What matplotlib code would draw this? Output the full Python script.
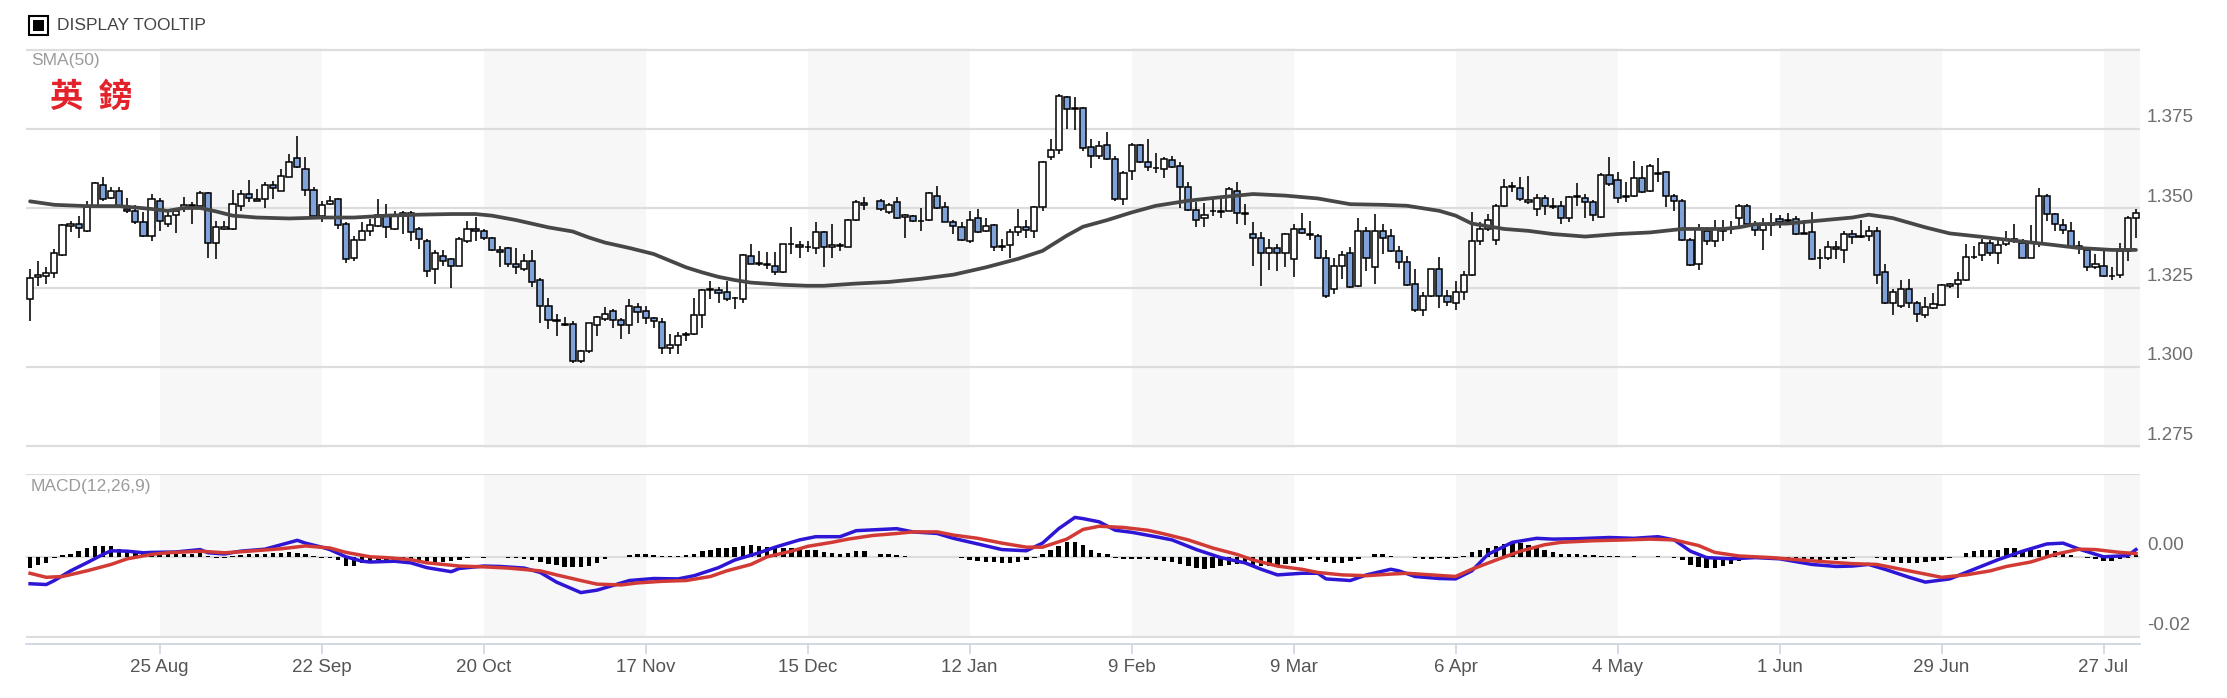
import numpy as np
import matplotlib
matplotlib.use('Agg')
import matplotlib.pyplot as plt
import matplotlib.transforms as mtransforms
from matplotlib.patches import Rectangle

# ---- data (one candle per trading day, None = no trading) ----
tick_labels = ['25 Aug', '22 Sep', '20 Oct', '17 Nov', '15 Dec', '12 Jan', '9 Feb',
               '9 Mar', '6 Apr', '4 May', '1 Jun', '29 Jun', '27 Jul']

opens = [
    1.3214, 1.3285, 1.3287, 1.3297, 1.3352, 1.3445, 1.3450, 1.3429, 1.3508, 1.3573,
    1.3534, 1.3555, 1.3498, 1.3490, 1.3456, 1.3414, 1.3522, 1.3452, 1.3480, 1.3501,
    1.3508, 1.3508, 1.3547, 1.3390, 1.3436, 1.3435, 1.3508, 1.3545, 1.3528, 1.3529,
    1.3573, 1.3555, 1.3600, 1.3658, 1.3624, 1.3558, 1.3477, 1.3513, 1.3529, 1.3450,
    1.3343, 1.3401, 1.3429, 1.3445, 1.3477, 1.3435, 1.3477, 1.3484, 1.3435, 1.3396,
    1.3308, 1.3350, 1.3340, 1.3319, 1.3398, 1.3435, 1.3429, 1.3406, 1.3368, 1.3375,
    1.3324, 1.3308, 1.3335, 1.3274, 1.3193, 1.3148, 1.3135, 1.3137, 1.3019, 1.3049,
    1.3133, 1.3151, 1.3177, 1.3147, 1.3133, 1.3190, 1.3175, 1.3154, 1.3142, 1.3061,
    1.3070, 1.3100, 1.3103, 1.3163, 1.3242, 1.3243, 1.3235, 1.3217, 1.3214, 1.3350,
    1.3329, 1.3326, 1.3319, 1.3298, 1.3387, 1.3385, 1.3377, 1.3375, 1.3424, 1.3377,
    1.3382, 1.3379, 1.3463, 1.3517, None, 1.3522, 1.3487, 1.3519, 1.3473, 1.3475,
    1.3461, 1.3463, 1.3540, 1.3503, 1.3458, 1.3442, 1.3396, 1.3468, 1.3427, 1.3447,
    1.3379, 1.3385, 1.3424, 1.3440, 1.3429, 1.3503, 1.3661, 1.3684, 1.3850, 1.3815,
    1.3816, 1.3694, 1.3666, 1.3701, 1.3655, 1.3529, 1.3619, 1.3701, 1.3645, 1.3626,
    1.3624, 1.3652, 1.3634, 1.3568, 1.3495, 1.3469, 1.3490, 1.3489, 1.3492, 1.3555,
    1.3486, 1.3419, 1.3408, 1.3359, 1.3374, 1.3359, 1.3340, 1.3435, 1.3419, 1.3414,
    1.3342, 1.3247, 1.3319, 1.3359, 1.3255, 1.3429, 1.3314, 1.3429, 1.3414, 1.3364,
    1.3331, 1.3263, 1.3180, 1.3224, 1.3308, 1.3224, 1.3203, 1.3235, 1.3290, 1.3398,
    1.3435, 1.3401, 1.3508, 1.3566, 1.3563, 1.3519, 1.3498, 1.3534, 1.3506, 1.3506,
    1.3469, 1.3538, 1.3534, 1.3519, 1.3473, 1.3606, 1.3589, 1.3538, 1.3540, 1.3595,
    1.3555, 1.3611, 1.3613, 1.3540, 1.3524, 1.3401, 1.3324, 1.3429, 1.3396, 1.3430,
    1.3434, 1.3469, 1.3508, 1.3450, 1.3431, 1.3449, 1.3466, 1.3460, 1.3466, 1.3422,
    1.3424, 1.3342, 1.3343, 1.3379, 1.3369, 1.3419, 1.3410, 1.3414, 1.3429, 1.3298,
    1.3203, 1.3193, 1.3247, 1.3203, 1.3164, 1.3187, 1.3196, 1.3256, 1.3263, 1.3274,
    1.3348, 1.3354, 1.3392, 1.3359, 1.3387, 1.3404, 1.3392, 1.3345, 1.3392, 1.3540,
    1.3482, 1.3448, 1.3429, 1.3380, 1.3368, 1.3314, 1.3319, 1.3288, 1.3290, 1.3366,
    1.3469]

highs = [
    1.3308, 1.3333, 1.3314, 1.3371, 1.3452, 1.3459, 1.3477, 1.3524, 1.3582, 1.3598,
    1.3568, 1.3566, 1.3534, 1.3511, 1.3487, 1.3545, 1.3534, 1.3490, 1.3501, 1.3537,
    1.3519, 1.3553, 1.3550, 1.3461, 1.3461, 1.3558, 1.3558, 1.3590, 1.3561, 1.3582,
    1.3585, 1.3624, 1.3671, 1.3729, 1.3661, 1.3566, 1.3524, 1.3540, 1.3534, 1.3456,
    1.3414, 1.3458, 1.3466, 1.3529, 1.3513, 1.3492, 1.3492, 1.3490, 1.3440, 1.3403,
    1.3368, 1.3368, 1.3345, 1.3410, 1.3459, 1.3473, 1.3435, 1.3410, 1.3382, 1.3377,
    1.3375, 1.3356, 1.3369, 1.3282, 1.3219, 1.3166, 1.3158, 1.3145, 1.3053, 1.3140,
    1.3161, 1.3190, 1.3182, 1.3156, 1.3214, 1.3203, 1.3193, 1.3158, 1.3156, 1.3103,
    1.3111, 1.3109, 1.3217, 1.3245, 1.3272, 1.3253, 1.3272, 1.3221, 1.3356, 1.3387,
    1.3364, 1.3361, 1.3361, 1.3389, 1.3442, 1.3398, 1.3396, 1.3458, 1.3429, 1.3450,
    1.3392, 1.3466, 1.3526, 1.3537, None, 1.3529, 1.3516, 1.3537, 1.3482, 1.3480,
    1.3501, 1.3550, 1.3569, 1.3519, 1.3463, 1.3456, 1.3490, 1.3498, 1.3469, 1.3450,
    1.3403, 1.3435, 1.3498, 1.3463, 1.3508, 1.3648, 1.3718, 1.3860, 1.3855, 1.3850,
    1.3818, 1.3718, 1.3713, 1.3740, 1.3666, 1.3616, 1.3705, 1.3703, 1.3718, 1.3673,
    1.3661, 1.3666, 1.3645, 1.3582, 1.3519, 1.3516, 1.3529, 1.3534, 1.3566, 1.3582,
    1.3513, 1.3458, 1.3424, 1.3403, 1.3387, 1.3421, 1.3450, 1.3485, 1.3459, 1.3419,
    1.3368, 1.3343, 1.3364, 1.3377, 1.3469, 1.3440, 1.3482, 1.3450, 1.3435, 1.3382,
    1.3350, 1.3308, 1.3235, 1.3310, 1.3347, 1.3242, 1.3272, 1.3303, 1.3487, 1.3456,
    1.3482, 1.3513, 1.3592, 1.3582, 1.3598, 1.3603, 1.3545, 1.3543, 1.3534, 1.3524,
    1.3540, 1.3579, 1.3545, 1.3526, 1.3610, 1.3663, 1.3613, 1.3582, 1.3648, 1.3634,
    1.3640, 1.3658, 1.3619, 1.3545, 1.3529, 1.3408, 1.3452, 1.3440, 1.3463, 1.3463,
    1.3461, 1.3513, 1.3513, 1.3461, 1.3469, 1.3484, 1.3480, 1.3484, 1.3477, 1.3463,
    1.3487, 1.3371, 1.3396, 1.3396, 1.3427, 1.3431, 1.3463, 1.3445, 1.3442, 1.3326,
    1.3245, 1.3274, 1.3277, 1.3208, 1.3221, 1.3232, 1.3263, 1.3266, 1.3298, 1.3387,
    1.3382, 1.3403, 1.3400, 1.3403, 1.3429, 1.3452, 1.3403, 1.3448, 1.3564, 1.3545,
    1.3484, 1.3466, 1.3458, 1.3398, 1.3371, 1.3356, 1.3366, 1.3314, 1.3392, 1.3477,
    1.3498]

lows = [
    1.3145, 1.3256, 1.3261, 1.3282, 1.3350, 1.3424, 1.3406, 1.3424, 1.3505, 1.3524,
    1.3529, 1.3503, 1.3484, 1.3450, 1.3411, 1.3396, 1.3429, 1.3440, 1.3422, 1.3489,
    1.3450, 1.3505, 1.3345, 1.3340, 1.3431, 1.3431, 1.3490, 1.3519, 1.3522, 1.3501,
    1.3529, 1.3553, 1.3598, 1.3627, 1.3540, 1.3473, 1.3456, 1.3511, 1.3435, 1.3329,
    1.3335, 1.3400, 1.3414, 1.3440, 1.3406, 1.3431, 1.3419, 1.3396, 1.3371, 1.3284,
    1.3261, 1.3319, 1.3250, 1.3317, 1.3392, 1.3396, 1.3400, 1.3366, 1.3314, 1.3314,
    1.3293, 1.3303, 1.3253, 1.3140, 1.3119, 1.3098, 1.3130, 1.3014, 1.3014, 1.3045,
    1.3098, 1.3145, 1.3124, 1.3088, 1.3103, 1.3140, 1.3137, 1.3124, 1.3042, 1.3042,
    1.3042, 1.3082, 1.3101, 1.3124, 1.3214, 1.3203, 1.3208, 1.3182, 1.3203, 1.3324,
    1.3319, 1.3308, 1.3290, 1.3295, 1.3356, 1.3345, 1.3361, 1.3356, 1.3314, 1.3345,
    1.3364, 1.3377, 1.3461, 1.3495, None, 1.3492, 1.3482, 1.3466, 1.3406, 1.3456,
    1.3429, 1.3461, 1.3498, 1.3456, 1.3419, 1.3396, 1.3392, 1.3422, 1.3424, 1.3366,
    1.3366, 1.3345, 1.3414, 1.3406, 1.3408, 1.3490, 1.3652, 1.3671, 1.3750, 1.3747,
    1.3682, 1.3627, 1.3655, 1.3652, 1.3524, 1.3511, 1.3589, 1.3642, 1.3616, 1.3610,
    1.3595, 1.3627, 1.3501, 1.3492, 1.3440, 1.3440, 1.3477, 1.3471, 1.3490, 1.3450,
    1.3448, 1.3319, 1.3256, 1.3305, 1.3301, 1.3314, 1.3284, 1.3419, 1.3400, 1.3340,
    1.3219, 1.3229, 1.3277, 1.3250, 1.3253, 1.3301, 1.3263, 1.3356, 1.3361, 1.3310,
    1.3256, 1.3172, 1.3161, 1.3221, 1.3185, 1.3191, 1.3179, 1.3212, 1.3286, 1.3385,
    1.3429, 1.3384, 1.3505, 1.3550, 1.3524, 1.3513, 1.3477, 1.3479, 1.3498, 1.3452,
    1.3456, 1.3508, 1.3469, 1.3459, 1.3469, 1.3571, 1.3516, 1.3519, 1.3537, 1.3547,
    1.3550, 1.3584, 1.3505, 1.3490, 1.3398, 1.3319, 1.3306, 1.3385, 1.3379, 1.3396,
    1.3419, 1.3435, 1.3448, 1.3414, 1.3368, 1.3414, 1.3438, 1.3450, 1.3417, 1.3419,
    1.3337, 1.3308, 1.3337, 1.3340, 1.3329, 1.3387, 1.3406, 1.3396, 1.3263, 1.3200,
    1.3164, 1.3187, 1.3185, 1.3142, 1.3154, 1.3184, 1.3193, 1.3250, 1.3217, 1.3272,
    1.3340, 1.3335, 1.3350, 1.3324, 1.3382, 1.3392, 1.3343, 1.3343, 1.3379, 1.3461,
    1.3429, 1.3419, 1.3375, 1.3356, 1.3303, 1.3308, 1.3284, 1.3274, 1.3282, 1.3335,
    1.3406]

closes = [
    1.3280, 1.3290, 1.3297, 1.3359, 1.3448, 1.3452, 1.3437, 1.3505, 1.3579, 1.3529,
    1.3555, 1.3508, 1.3490, 1.3456, 1.3414, 1.3529, 1.3459, 1.3477, 1.3490, 1.3511,
    1.3512, 1.3547, 1.3390, 1.3440, 1.3442, 1.3513, 1.3545, 1.3531, 1.3523, 1.3573,
    1.3563, 1.3601, 1.3645, 1.3629, 1.3558, 1.3477, 1.3511, 1.3524, 1.3448, 1.3340,
    1.3400, 1.3429, 1.3448, 1.3479, 1.3442, 1.3480, 1.3484, 1.3424, 1.3403, 1.3303,
    1.3358, 1.3333, 1.3319, 1.3403, 1.3435, 1.3429, 1.3406, 1.3369, 1.3361, 1.3324,
    1.3316, 1.3335, 1.3269, 1.3193, 1.3148, 1.3145, 1.3133, 1.3019, 1.3049, 1.3138,
    1.3158, 1.3168, 1.3148, 1.3133, 1.3193, 1.3172, 1.3156, 1.3145, 1.3061, 1.3070,
    1.3098, 1.3103, 1.3163, 1.3243, 1.3245, 1.3232, 1.3214, 1.3216, 1.3352, 1.3326,
    1.3326, 1.3322, 1.3298, 1.3387, 1.3389, 1.3377, 1.3379, 1.3424, 1.3377, 1.3384,
    1.3385, 1.3463, 1.3519, 1.3510, None, 1.3498, 1.3511, 1.3469, 1.3480, 1.3459,
    1.3460, 1.3547, 1.3501, 1.3458, 1.3443, 1.3400, 1.3463, 1.3424, 1.3445, 1.3379,
    1.3381, 1.3424, 1.3440, 1.3431, 1.3503, 1.3645, 1.3684, 1.3855, 1.3813, 1.3812,
    1.3690, 1.3666, 1.3697, 1.3655, 1.3529, 1.3610, 1.3701, 1.3645, 1.3629, 1.3628,
    1.3655, 1.3631, 1.3568, 1.3495, 1.3463, 1.3479, 1.3491, 1.3492, 1.3561, 1.3484,
    1.3483, 1.3408, 1.3359, 1.3374, 1.3359, 1.3419, 1.3435, 1.3421, 1.3416, 1.3342,
    1.3224, 1.3317, 1.3352, 1.3253, 1.3429, 1.3342, 1.3429, 1.3408, 1.3364, 1.3331,
    1.3259, 1.3180, 1.3224, 1.3308, 1.3224, 1.3205, 1.3235, 1.3290, 1.3398, 1.3435,
    1.3463, 1.3508, 1.3568, 1.3569, 1.3529, 1.3527, 1.3534, 1.3508, 1.3504, 1.3469,
    1.3537, 1.3536, 1.3519, 1.3479, 1.3606, 1.3576, 1.3534, 1.3536, 1.3595, 1.3550,
    1.3634, 1.3609, 1.3540, 1.3524, 1.3401, 1.3322, 1.3435, 1.3398, 1.3435, 1.3433,
    1.3436, 1.3508, 1.3450, 1.3431, 1.3447, 1.3447, 1.3456, 1.3462, 1.3419, 1.3420,
    1.3340, 1.3344, 1.3379, 1.3371, 1.3419, 1.3410, 1.3412, 1.3427, 1.3290, 1.3203,
    1.3235, 1.3247, 1.3203, 1.3166, 1.3190, 1.3200, 1.3259, 1.3261, 1.3274, 1.3347,
    1.3346, 1.3392, 1.3359, 1.3385, 1.3403, 1.3402, 1.3345, 1.3392, 1.3540, 1.3482,
    1.3452, 1.3431, 1.3379, 1.3378, 1.3314, 1.3324, 1.3287, 1.3286, 1.3366, 1.3469,
    1.3484]

# SMA(50) read at selected days
sma_day = [0, 3, 7, 11, 15, 17, 19, 21, 23, 25, 28, 32, 36, 40, 44, 48, 52, 55, 57, 60,
           64, 67, 69, 71, 74, 77, 81, 83, 85, 87, 89, 93, 96, 98, 102, 106, 110, 114, 118, 122,
           125, 128, 130, 133, 136, 139, 143, 147, 151, 155, 159, 163, 167, 170, 174, 176, 178, 182, 185, 188,
           192, 196, 200, 204, 209, 211, 213, 217, 222, 225, 227, 230, 234, 237, 241, 245, 249, 253, 257, 260]
sma_val = [1.3522, 1.3511, 1.3507, 1.3507, 1.3498, 1.3492, 1.3501, 1.3501, 1.3490, 1.3477,
           1.3471, 1.3468, 1.3471, 1.3471, 1.3477, 1.3480, 1.3482, 1.3482, 1.3477, 1.3463,
           1.3440, 1.3427, 1.3408, 1.3392, 1.3375, 1.3356, 1.3314, 1.3298, 1.3284, 1.3274,
           1.3266, 1.3259, 1.3256, 1.3256, 1.3263, 1.3268, 1.3278, 1.3291, 1.3314, 1.3341,
           1.3366, 1.3414, 1.3442, 1.3463, 1.3487, 1.3508, 1.3524, 1.3535, 1.3545, 1.3540,
           1.3531, 1.3513, 1.3511, 1.3508, 1.3492, 1.3477, 1.3452, 1.3435, 1.3429, 1.3419,
           1.3411, 1.3419, 1.3424, 1.3435, 1.3435, 1.3440, 1.3450, 1.3452, 1.3464, 1.3471,
           1.3480, 1.3469, 1.3440, 1.3421, 1.3410, 1.3398, 1.3387, 1.3375, 1.3369, 1.3369]

# MACD(12,26,9): MACD line and signal line read at selected days, histogram per day
macd_day = [0, 2, 3, 5, 7, 9, 10, 12, 14, 15, 18, 21, 22, 24, 26, 29, 31, 33, 34, 36,
            37, 39, 41, 42, 45, 47, 49, 52, 53, 56, 58, 61, 63, 65, 68, 70, 72, 74, 77, 80,
            82, 85, 87, 90, 92, 95, 97, 100, 102, 105, 107, 109, 112, 114, 117, 120, 123, 125, 127, 129,
            130, 132, 134, 136, 139, 141, 144, 147, 150, 152, 154, 157, 159, 160, 163, 165, 168, 169, 171, 174,
            176, 178, 180, 183, 186, 188, 191, 195, 198, 201, 203, 205, 207, 210, 213, 216, 220, 223, 225, 227,
            229, 232, 234, 237, 240, 243, 246, 249, 251, 253, 256, 259, 260]
macd_val = [-0.0067, -0.0069, -0.0059, -0.0035, -0.0015, 0.0006, 0.0015, 0.0014, 0.0010, 0.0011,
            0.0012, 0.0018, 0.0010, 0.0007, 0.0014, 0.0019, 0.0030, 0.0041, 0.0034, 0.0024,
            0.0018, 0.0000, -0.0011, -0.0013, -0.0011, -0.0015, -0.0027, -0.0037, -0.0029, -0.0023,
            -0.0024, -0.0028, -0.0039, -0.0063, -0.0089, -0.0083, -0.0071, -0.0059, -0.0054, -0.0055,
            -0.0047, -0.0027, -0.0008, 0.0010, 0.0024, 0.0042, 0.0050, 0.0050, 0.0065, 0.0068,
            0.0070, 0.0062, 0.0058, 0.0046, 0.0032, 0.0018, 0.0015, 0.0034, 0.0070, 0.0098,
            0.0095, 0.0087, 0.0066, 0.0061, 0.0050, 0.0042, 0.0018, -0.0002, -0.0015, -0.0031,
            -0.0045, -0.0041, -0.0041, -0.0055, -0.0059, -0.0045, -0.0031, -0.0035, -0.0049, -0.0054,
            -0.0055, -0.0035, 0.0006, 0.0036, 0.0046, 0.0044, 0.0045, 0.0048, 0.0046, 0.0050,
            0.0042, 0.0014, -0.0002, -0.0005, -0.0002, -0.0005, -0.0019, -0.0024, -0.0023, -0.0019,
            -0.0031, -0.0051, -0.0063, -0.0055, -0.0031, -0.0007, 0.0014, 0.0032, 0.0034, 0.0019,
            0.0000, 0.0003, 0.0018]

signal_day = [0, 2, 4, 7, 10, 12, 15, 17, 21, 24, 27, 31, 34, 37, 39, 42, 44, 47, 49, 53,
              56, 59, 63, 65, 68, 70, 73, 75, 78, 81, 84, 86, 89, 91, 94, 96, 99, 101, 104, 107,
              109, 112, 114, 117, 120, 123, 125, 128, 130, 132, 135, 138, 140, 143, 146, 149, 151, 154, 157, 159,
              162, 165, 168, 170, 173, 176, 178, 181, 184, 187, 189, 193, 197, 200, 203, 206, 208, 211, 215, 218,
              222, 225, 228, 231, 234, 236, 239, 242, 244, 247, 250, 253, 255, 258, 260]
signal_val = [-0.0041, -0.0051, -0.0049, -0.0035, -0.0019, -0.0005, 0.0006, 0.0010, 0.0014, 0.0010,
              0.0014, 0.0020, 0.0027, 0.0022, 0.0011, 0.0000, -0.0002, -0.0007, -0.0015, -0.0023,
              -0.0025, -0.0028, -0.0035, -0.0045, -0.0059, -0.0068, -0.0070, -0.0065, -0.0061, -0.0059,
              -0.0049, -0.0035, -0.0019, 0.0000, 0.0014, 0.0026, 0.0036, 0.0044, 0.0053, 0.0058,
              0.0062, 0.0062, 0.0054, 0.0046, 0.0034, 0.0024, 0.0024, 0.0044, 0.0068, 0.0076,
              0.0073, 0.0066, 0.0057, 0.0042, 0.0022, 0.0006, -0.0008, -0.0023, -0.0031, -0.0039,
              -0.0045, -0.0047, -0.0043, -0.0041, -0.0045, -0.0049, -0.0031, -0.0008, 0.0014, 0.0030,
              0.0036, 0.0040, 0.0042, 0.0044, 0.0042, 0.0028, 0.0011, 0.0002, -0.0002, -0.0007,
              -0.0013, -0.0017, -0.0019, -0.0031, -0.0043, -0.0051, -0.0045, -0.0035, -0.0024, -0.0013,
              0.0006, 0.0019, 0.0018, 0.0011, 0.0008]

hist = [
    -0.0028, -0.0020, -0.0015, -0.0004, 0.0005, 0.0008, 0.0014, 0.0022, 0.0028, 0.0028,
    0.0026, 0.0020, 0.0017, 0.0015, 0.0013, 0.0011, 0.0010, 0.0009, 0.0008, 0.0008,
    0.0008, 0.0009, 0.0003, -0.0003, -0.0004, 0.0002, 0.0004, 0.0006, 0.0007, 0.0008,
    0.0009, 0.0010, 0.0012, 0.0010, 0.0006, 0.0002, -0.0002, -0.0004, -0.0009, -0.0022,
    -0.0022, -0.0016, -0.0012, -0.0008, -0.0008, -0.0008, -0.0008, -0.0008, -0.0009, -0.0011,
    -0.0012, -0.0012, -0.0011, -0.0007, -0.0002, 0.0000, -0.0004, 0.0000, -0.0001, -0.0003,
    -0.0004, -0.0006, -0.0009, -0.0014, -0.0018, -0.0021, -0.0025, -0.0026, -0.0026, -0.0022,
    -0.0015, -0.0006, 0.0000, 0.0000, 0.0005, 0.0006, 0.0006, 0.0004, 0.0003, 0.0003,
    0.0003, 0.0004, 0.0007, 0.0014, 0.0018, 0.0021, 0.0022, 0.0025, 0.0027, 0.0029,
    0.0028, 0.0025, 0.0024, 0.0023, 0.0023, 0.0020, 0.0018, 0.0016, 0.0013, 0.0010,
    0.0006, 0.0009, 0.0014, 0.0015, None, 0.0007, 0.0006, 0.0005, 0.0003, 0.0000,
    0.0000, 0.0000, 0.0000, 0.0000, 0.0000, -0.0004, -0.0008, -0.0011, -0.0013, -0.0014,
    -0.0016, -0.0015, -0.0012, -0.0008, -0.0003, 0.0007, 0.0016, 0.0027, 0.0037, 0.0037,
    0.0029, 0.0018, 0.0010, 0.0006, -0.0002, -0.0005, -0.0005, -0.0006, -0.0006, -0.0008,
    -0.0010, -0.0013, -0.0019, -0.0023, -0.0029, -0.0031, -0.0028, -0.0024, -0.0021, -0.0019,
    -0.0019, -0.0021, -0.0023, -0.0024, -0.0024, -0.0019, -0.0015, -0.0010, -0.0006, -0.0008,
    -0.0013, -0.0016, -0.0015, -0.0010, -0.0005, 0.0000, 0.0006, 0.0008, 0.0003, 0.0000,
    0.0000, -0.0002, -0.0005, -0.0005, -0.0003, -0.0005, -0.0002, 0.0003, 0.0011, 0.0016,
    0.0022, 0.0028, 0.0032, 0.0036, 0.0034, 0.0030, 0.0024, 0.0018, 0.0011, 0.0008,
    0.0006, 0.0006, 0.0004, 0.0004, 0.0003, 0.0003, 0.0002, 0.0000, 0.0002, 0.0000,
    0.0000, 0.0002, 0.0000, -0.0002, -0.0008, -0.0020, -0.0026, -0.0028, -0.0027, -0.0024,
    -0.0018, -0.0010, -0.0006, -0.0004, -0.0003, -0.0003, -0.0003, -0.0003, -0.0004, -0.0006,
    -0.0006, -0.0007, -0.0006, -0.0008, -0.0006, -0.0003, 0.0000, 0.0000, -0.0002, -0.0008,
    -0.0012, -0.0015, -0.0016, -0.0015, -0.0014, -0.0011, -0.0008, -0.0004, 0.0000, 0.0009,
    0.0014, 0.0016, 0.0017, 0.0018, 0.0022, 0.0021, 0.0018, 0.0020, 0.0018, 0.0016,
    0.0014, 0.0010, 0.0005, 0.0000, -0.0003, -0.0006, -0.0011, -0.0011, -0.0006, -0.0003,
    0.0004]

# ---- styling ----
plt.rcParams['font.family'] = ['Liberation Sans', 'DejaVu Sans']
W, H = 2227, 698
fig = plt.figure(figsize=(W / 100, H / 100), dpi=100)

left, right = 26 / W, 2140 / W
ax = fig.add_axes([left, 1 - 448 / H, right - left, 400 / H])
axm = fig.add_axes([left, 1 - 638 / H, right - left, 164 / H], sharex=ax)

o = np.array(opens, dtype=float)
h = np.array(highs, dtype=float)
l = np.array(lows, dtype=float)
c = np.array(closes, dtype=float)
x = np.arange(len(o))
ok = ~np.isnan(o)

grid_col = '#dddddd'
shade_col = '#f7f7f7'
tick_first, tick_step = 16, 20
tick_pos = [tick_first + tick_step * k for k in range(len(tick_labels))]

for a in (ax, axm):
    for k in range(0, len(tick_pos), 2):
        a.axvspan(tick_pos[k], tick_pos[k + 1] if k + 1 < len(tick_pos) else x[-1] + 0.5,
                  color=shade_col, lw=0, zorder=0)
    for s in a.spines.values():
        s.set_visible(False)
    a.grid(axis='y', color=grid_col, lw=1.6, zorder=0.5)
    a.set_axisbelow(True)
    a.yaxis.tick_right()
    a.tick_params(axis='y', length=0, pad=5, labelsize=13.5, labelcolor='#6e6e6e')

# candles
ax.vlines(x[ok], l[ok], h[ok], color='black', lw=1.15, zorder=3)
up = ok & (c >= o)
dn = ok & (c < o)
body_lo = np.minimum(o, c)
body_h = np.maximum(np.abs(c - o), 0.00012)
ax.bar(x[up], body_h[up], bottom=body_lo[up], width=0.76, color='white',
       edgecolor='black', lw=1.1, zorder=4)
ax.bar(x[dn], body_h[dn], bottom=body_lo[dn], width=0.76, color='#7fa2d8',
       edgecolor='black', lw=1.1, zorder=4)
ax.plot(sma_day, sma_val, color='#474747', lw=2.7, zorder=5, solid_capstyle='round')

ax.set_ylim(1.2745, 1.4005)
ax.set_yticks([1.275, 1.300, 1.325, 1.350, 1.375, 1.400])
ax.set_yticklabels(['1.275', '1.300', '1.325', '1.350', '1.375', ''])
ax.tick_params(axis='x', which='both', bottom=False, labelbottom=False)

# MACD panel
hv = np.array(hist, dtype=float)
hok = ~np.isnan(hv)
axm.bar(x[hok], hv[hok], width=0.55, color='black', zorder=3)
axm.plot(macd_day, macd_val, color='#2e16d6', lw=2.5, zorder=4)
axm.plot(signal_day, signal_val, color='#d23a36', lw=2.5, zorder=5)
axm.set_ylim(-0.0202, 0.0206)
axm.set_yticks([-0.02, 0.0, 0.0206])
axm.set_yticklabels(['-0.02', '0.00', ''])

axm.set_xlim(-0.5, x[-1] + 0.5)
axm.set_xticks(tick_pos)
axm.set_xticklabels(tick_labels)
axm.spines['bottom'].set_visible(True)
axm.spines['bottom'].set_position(('outward', 4))
axm.spines['bottom'].set_color('#c9d2de')
axm.spines['bottom'].set_linewidth(1.2)
axm.tick_params(axis='x', direction='out', length=7, width=1.1, color='#c9d2de',
                pad=4, labelsize=13.5, labelcolor='#555555')

# put the value labels just above their grid lines
shift = mtransforms.ScaledTranslation(0, 2 / 72, fig.dpi_scale_trans)
for a in (ax, axm):
    for lab in a.get_yticklabels():
        lab.set_verticalalignment('bottom')
        lab.set_transform(lab.get_transform() + shift)

# texts
fig.text(31 / W, 1 - 60 / H, 'SMA(50)', fontsize=12.5, color='#9b9b9b', va='center')
fig.text(31 / W, 1 - 487 / H, 'MACD(12,26,9)', fontsize=12.5, color='#9b9b9b', va='center')
fig.text(50 / W, 1 - 97 / H, '英  鎊', fontsize=24, fontweight='bold', color='#e3232c',
         va='center', family=['Noto Sans CJK TC', 'DejaVu Sans'])
fig.text(57 / W, 1 - 25 / H, 'DISPLAY TOOLTIP', fontsize=12.5, color='#444444', va='center')
fig.add_artist(Rectangle((29 / W, 1 - 35 / H), 19 / W, 19 / H, transform=fig.transFigure,
                         facecolor='white', edgecolor='black', lw=1.5))
fig.add_artist(Rectangle((33 / W, 1 - 31 / H), 11 / W, 11 / H, transform=fig.transFigure,
                         facecolor='black', edgecolor='none'))

fig.savefig('out.png', dpi=100)
